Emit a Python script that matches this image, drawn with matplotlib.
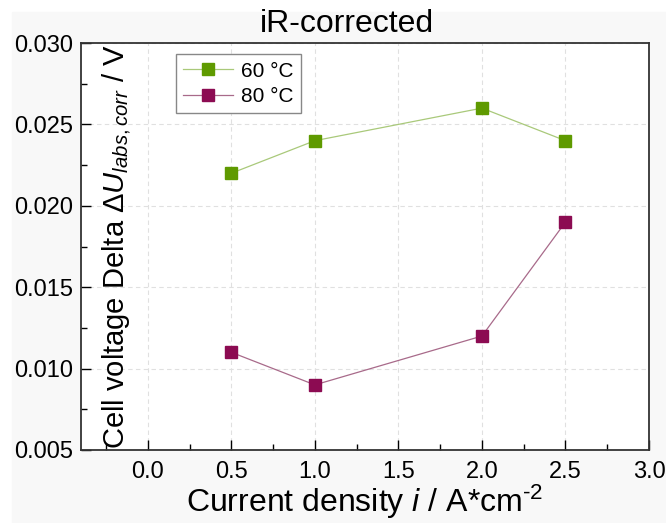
import matplotlib
matplotlib.use("Agg")
import matplotlib.pyplot as plt
from matplotlib.patches import Rectangle
from matplotlib.ticker import MultipleLocator, FormatStrFormatter

plt.rc('font', family='Liberation Sans')
plt.rc('mathtext', fontset='custom', rm='Liberation Sans',
       it='Liberation Sans:italic', bf='Liberation Sans:bold')

# data
current  = [0.5, 1.0, 2.0, 2.5]
dU_60    = [0.022, 0.024, 0.026, 0.024]
dU_80    = [0.011, 0.009, 0.012, 0.019]
labels   = ["60 \u00b0C", "80 \u00b0C"]
x_ticks  = [0.0, 0.5, 1.0, 1.5, 2.0, 2.5, 3.0]
y_ticks  = [0.005, 0.010, 0.015, 0.020, 0.025, 0.030]

fig = plt.figure(figsize=(6.66, 5.23), dpi=100, facecolor='white')
# light grey page area with a thin white margin at top/left
fig.patches.append(Rectangle((12/666, 0), 1, 1 - 12/523,
                             transform=fig.transFigure, color='#f8f8f8',
                             zorder=-10))
ax = fig.add_axes([81/666, 1 - 450/523, (649-81)/666, (450-43)/523])
ax.set_facecolor('white')

ax.plot(current, dU_60, color='#a9c97a', lw=0.9, marker='s', ms=9,
        mfc='#5f9a00', mec='#5f9a00', label=labels[0])
ax.plot(current, dU_80, color='#a86a8a', lw=0.9, marker='s', ms=9,
        mfc='#8c0b52', mec='#8c0b52', label=labels[1])

ax.set_xlim(-0.4, 3.0)
ax.set_ylim(0.005, 0.030)
ax.set_xticks(x_ticks)
ax.set_yticks(y_ticks)
ax.xaxis.set_minor_locator(MultipleLocator(0.25))
ax.yaxis.set_minor_locator(MultipleLocator(0.0025))
ax.xaxis.set_major_formatter(FormatStrFormatter('%.1f'))
ax.yaxis.set_major_formatter(FormatStrFormatter('%.3f'))
ax.tick_params(which='both', direction='in', labelsize=17)
ax.tick_params(axis='x', which='major', pad=8)
ax.tick_params(axis='y', which='major', pad=6)
ax.tick_params(which='major', length=7, width=1)
ax.tick_params(which='minor', length=4, width=1)
ax.grid(True, which='major', color='#e0e0e0', ls=(0, (4, 3)), lw=0.8)
ax.set_axisbelow(True)
for s in ax.spines.values():
    s.set_linewidth(1.3)
    s.set_color('#333333')

fig.text(347/666, 1 - 24/523, "iR-corrected", fontsize=23,
         ha='center', va='center')
ax.set_xlabel("Current density $i$ / A*cm$^{\\text{-2}}$", fontsize=23,
              labelpad=0)
ax.set_ylabel(r"Cell voltage Delta $\Delta U_{labs,corr}$ / V", fontsize=21)
ax.yaxis.set_label_coords(0.092, 0.5)

leg = ax.legend(loc='upper left', bbox_to_anchor=(0.167, 0.972), fontsize=15,
                fancybox=False, edgecolor='#888888', framealpha=1,
                handlelength=2.4, borderpad=0.35, labelspacing=0.3,
                handletextpad=0.4, borderaxespad=0)
leg.get_frame().set_linewidth(1.0)

fig.savefig("out.png", dpi=100)
